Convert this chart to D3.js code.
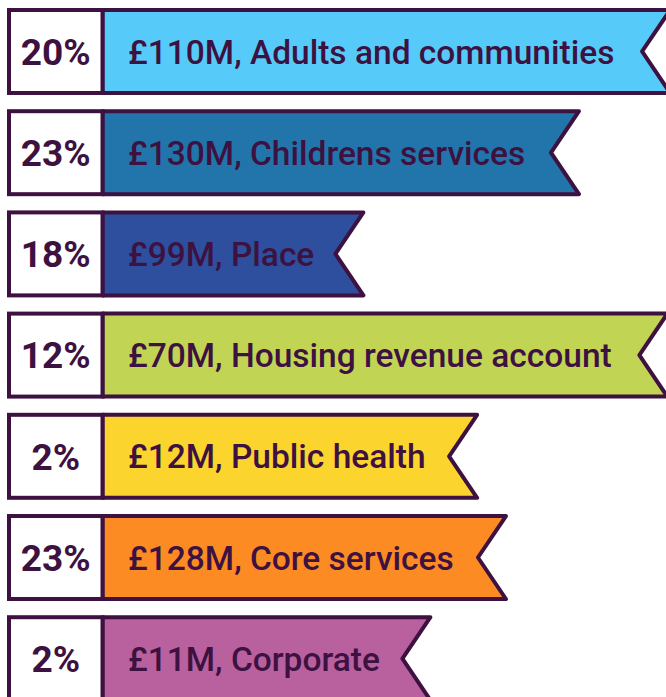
<!DOCTYPE html>
<html>
<head>
<meta charset="utf-8">
<script src="https://cdn.jsdelivr.net/npm/d3@7"></script>
<style>
  body { margin: 0; background: #fff; }
  svg { display: block; }
  text { font-family: Roboto, "Noto Sans", sans-serif; fill: #3d1140; }
</style>
</head>
<body>
<script>
var percents = ["20%", "23%", "18%", "12%", "2%", "23%", "2%"];
var amounts = ["£110M", "£130M", "£99M", "£70M", "£12M", "£128M", "£11M"];
var services = [
  "Adults and communities",
  "Childrens services",
  "Place",
  "Housing revenue account",
  "Public health",
  "Core services",
  "Corporate",
];
var colors = [
  "#56cbfa",
  "#2275aa",
  "#2d4f9d",
  "#c2d453",
  "#fcd42e",
  "#fd8b24",
  "#b9609f",
];

var ink = "#3d1140";
var width = 666,
  height = 697;

var svg = d3
  .select("body")
  .append("svg")
  .attr("width", width)
  .attr("height", height);

var y = d3
  .scaleBand()
  .domain(d3.range(services.length))
  .range([10, 700.2])
  .paddingInner(0.18);

var boxLeft = 9,
  boxRight = 102.5,
  textLeft = 128,
  notch = 28;

var rows = svg
  .selectAll("g.row")
  .data(services)
  .enter()
  .append("g")
  .attr("class", "row")
  .attr("transform", function (d, i) {
    return "translate(0," + y(i) + ")";
  });

var h = y.bandwidth();

// label text first so the ribbon can be sized to it
var labels = rows
  .append("text")
  .attr("x", textLeft)
  .attr("y", h / 2)
  .attr("dy", "0.36em")
  .style("font-size", "33.5px")
  .style("font-weight", 500)
  .text(function (d, i) {
    return amounts[i] + ", " + d;
  });

rows.each(function (d, i) {
  var g = d3.select(this);
  var w = g.select("text").node().getComputedTextLength();
  var tip = textLeft + w * 1.022 + 45;
  var pts = [
    [boxRight, 0],
    [tip, 0],
    [tip - notch, h / 2],
    [tip, h],
    [boxRight, h],
  ];
  g.insert("path", "text")
    .attr("d", d3.line()(pts) + "Z")
    .attr("fill", colors[i])
    .attr("stroke", ink)
    .attr("stroke-width", 4)
    .attr("stroke-linejoin", "round");
});

rows
  .append("rect")
  .attr("x", boxLeft)
  .attr("y", 0)
  .attr("width", boxRight - boxLeft)
  .attr("height", h)
  .attr("fill", "#fff")
  .attr("stroke", ink)
  .attr("stroke-width", 4);

rows
  .append("text")
  .attr("x", (boxLeft + boxRight) / 2)
  .attr("y", h / 2)
  .attr("dy", "0.36em")
  .attr("text-anchor", "middle")
  .style("font-size", "37px")
  .style("font-weight", 700)
  .text(function (d, i) {
    return percents[i];
  });
</script>
</body>
</html>
